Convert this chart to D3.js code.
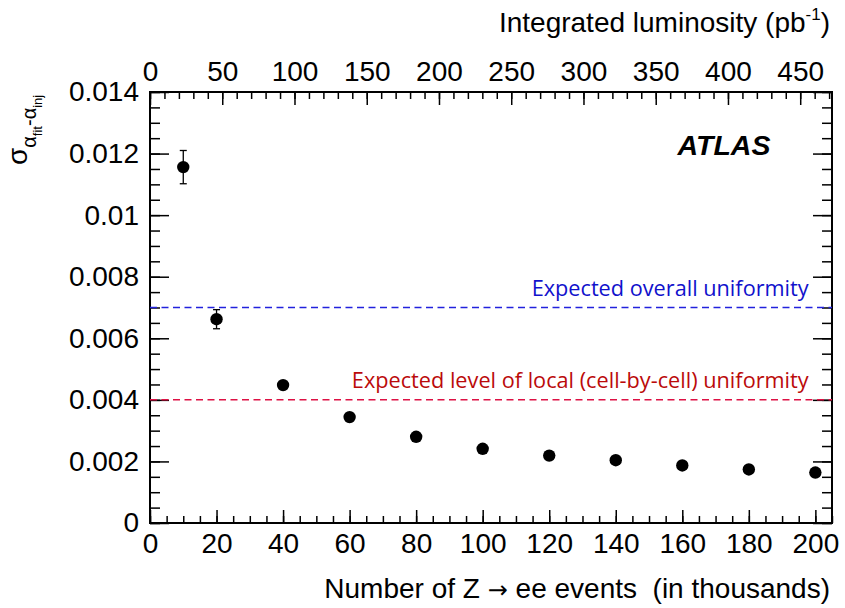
<!DOCTYPE html>
<html>
<head>
<meta charset="utf-8">
<script src="https://cdn.jsdelivr.net/npm/d3@7"></script>
<style>
  body { margin: 0; background: #fff; }
  text { font-family: "Liberation Sans", Arial, sans-serif; }
</style>
</head>
<body>
<div id="chart"></div>
<script>
// Z -> ee events (thousands) and the spread of fitted alpha
const nEvents = [10, 20, 40, 60, 80, 100, 120, 140, 160, 180, 200];
const sigmaVals = [0.01156, 0.00662, 0.00448, 0.00344, 0.00280, 0.00241, 0.00219, 0.00204, 0.00187, 0.00174, 0.00164];
const sigmaErrs = [0.00054, 0.00031, 0.00010, 0.00007, 0.00005, 0.00004, 0.00004, 0.00003, 0.00003, 0.00003, 0.00003];

const xTicks = [0, 20, 40, 60, 80, 100, 120, 140, 160, 180, 200];
const yTicks = [0, 0.002, 0.004, 0.006, 0.008, 0.01, 0.012, 0.014];
const lumiTicks = [0, 50, 100, 150, 200, 250, 300, 350, 400, 450];

const refLevels = [
  { value: 0.007, label: "Expected overall uniformity", line: "#2222dd", text: "#1111cc" },
  { value: 0.004, label: "Expected level of local (cell-by-cell) uniformity", line: "#dd1144", text: "#bb0a0a" }
];

const W = 845, H = 608;
const frame = { left: 150, right: 832, top: 92, bottom: 523 };

const svg = d3.select("#chart").append("svg")
    .attr("width", W)
    .attr("height", H);

const x = d3.scaleLinear().domain([0, 205]).range([frame.left, frame.right]);
const xTop = d3.scaleLinear().domain([0, 472]).range([frame.left, frame.right]);
const y = d3.scaleLinear().domain([0, 0.014]).range([frame.bottom, frame.top]);

const fmtY = d => String(+d.toFixed(3));

// minor ticks
const minorX = d3.range(0, 206, 5);
const minorY = d3.range(0, 0.01401, 0.0005);
const minorTop = d3.range(0, 471, 10);

function tickAxis(g) {
    g.select(".domain").remove();
    g.selectAll(".tick line").attr("stroke", "#000").attr("stroke-width", 1.5);
    g.selectAll(".tick text").attr("fill", "#000");
}

// bottom
svg.append("g")
    .attr("transform", `translate(0,${frame.bottom})`)
    .call(d3.axisBottom(x).tickValues(minorX).tickSizeInner(-7).tickFormat(""))
    .call(tickAxis);
svg.append("g")
    .attr("transform", `translate(0,${frame.bottom})`)
    .call(d3.axisBottom(x).tickValues(xTicks).tickSizeInner(-13).tickPadding(10).tickFormat(d3.format("d")))
    .call(tickAxis)
    .selectAll("text").attr("font-size", 28);

// top (luminosity)
svg.append("g")
    .attr("transform", `translate(0,${frame.top})`)
    .call(d3.axisTop(xTop).tickValues(minorTop).tickSizeInner(-7).tickFormat(""))
    .call(tickAxis);
svg.append("g")
    .attr("transform", `translate(0,${frame.top})`)
    .call(d3.axisTop(xTop).tickValues(lumiTicks).tickSizeInner(-13).tickPadding(11).tickFormat(d3.format("d")))
    .call(tickAxis)
    .selectAll("text").attr("font-size", 28);

// left
svg.append("g")
    .attr("transform", `translate(${frame.left},0)`)
    .call(d3.axisLeft(y).tickValues(minorY).tickSizeInner(-10).tickFormat(""))
    .call(tickAxis);
svg.append("g")
    .attr("transform", `translate(${frame.left},0)`)
    .call(d3.axisLeft(y).tickValues(yTicks).tickSizeInner(-19).tickPadding(11).tickFormat(fmtY))
    .call(tickAxis)
    .selectAll("text").attr("font-size", 28);

// right
svg.append("g")
    .attr("transform", `translate(${frame.right},0)`)
    .call(d3.axisRight(y).tickValues(minorY).tickSizeInner(-10).tickFormat(""))
    .call(tickAxis);
svg.append("g")
    .attr("transform", `translate(${frame.right},0)`)
    .call(d3.axisRight(y).tickValues(yTicks).tickSizeInner(-19).tickFormat(""))
    .call(tickAxis);

// frame
svg.append("rect")
    .attr("x", frame.left)
    .attr("y", frame.top)
    .attr("width", frame.right - frame.left)
    .attr("height", frame.bottom - frame.top)
    .attr("fill", "none")
    .attr("stroke", "#000")
    .attr("stroke-width", 2);

// reference lines
refLevels.forEach(r => {
    svg.append("line")
        .attr("x1", x(0)).attr("x2", x(205))
        .attr("y1", y(r.value)).attr("y2", y(r.value))
        .attr("stroke", r.line)
        .attr("stroke-width", 1.5)
        .attr("stroke-dasharray", "7 4.5");
    svg.append("text")
        .attr("x", x(198))
        .attr("y", y(r.value) - 12)
        .attr("text-anchor", "end")
        .attr("font-size", 21.7)
        .style("font-family", "'Open Sans', sans-serif")
        .attr("fill", r.text)
        .text(r.label);
});

// error bars
const pts = nEvents.map((n, i) => ({ n, v: sigmaVals[i], e: sigmaErrs[i] }));
const eb = svg.append("g").attr("stroke", "#000").attr("stroke-width", 1.3);
pts.forEach(d => {
    eb.append("line").attr("x1", x(d.n)).attr("x2", x(d.n))
        .attr("y1", y(d.v - d.e)).attr("y2", y(d.v + d.e));
    [d.v - d.e, d.v + d.e].forEach(v => {
        eb.append("line").attr("x1", x(d.n) - 3.5).attr("x2", x(d.n) + 3.5)
            .attr("y1", y(v)).attr("y2", y(v));
    });
});

svg.selectAll("circle.pt")
    .data(pts)
    .enter()
    .append("circle")
    .attr("class", "pt")
    .attr("cx", d => x(d.n))
    .attr("cy", d => y(d.v))
    .attr("r", 6.2)
    .attr("fill", "#000");

// ATLAS label
svg.append("text")
    .attr("x", 724)
    .attr("y", 155)
    .attr("text-anchor", "middle")
    .attr("font-size", 28.5)
    .attr("font-weight", "bold")
    .attr("font-style", "italic")
    .text("ATLAS");

// axis titles
const botTitle = svg.append("text")
    .attr("x", 830)
    .attr("y", 598)
    .attr("text-anchor", "end")
    .attr("font-size", 28)
    .style("white-space", "pre");
botTitle.append("tspan").text("Number of Z ");
botTitle.append("tspan").style("font-family", "'DejaVu Sans', sans-serif").attr("font-size", 24).text("\u2192");
botTitle.append("tspan").text(" ee events  (in thousands)");

const topTitle = svg.append("text")
    .attr("x", 830)
    .attr("y", 32)
    .attr("text-anchor", "end")
    .attr("font-size", 28);
topTitle.append("tspan").text("Integrated luminosity (pb");
topTitle.append("tspan").attr("font-size", 17).attr("dy", -12).text("-1");
topTitle.append("tspan").attr("dy", 12).text(")");

const yTitle = svg.append("text")
    .attr("transform", "translate(27,165) rotate(-90)")
    .attr("font-size", 28);
yTitle.append("tspan").text("\u03c3");
yTitle.append("tspan").attr("font-size", 20).attr("dy", 9).text("\u03b1");
yTitle.append("tspan").attr("font-size", 13).attr("dy", 6).text("fit");
yTitle.append("tspan").attr("font-size", 20).attr("dy", -6).text("-\u03b1");
yTitle.append("tspan").attr("font-size", 13).attr("dy", 6).text("inj");
</script>
</body>
</html>
